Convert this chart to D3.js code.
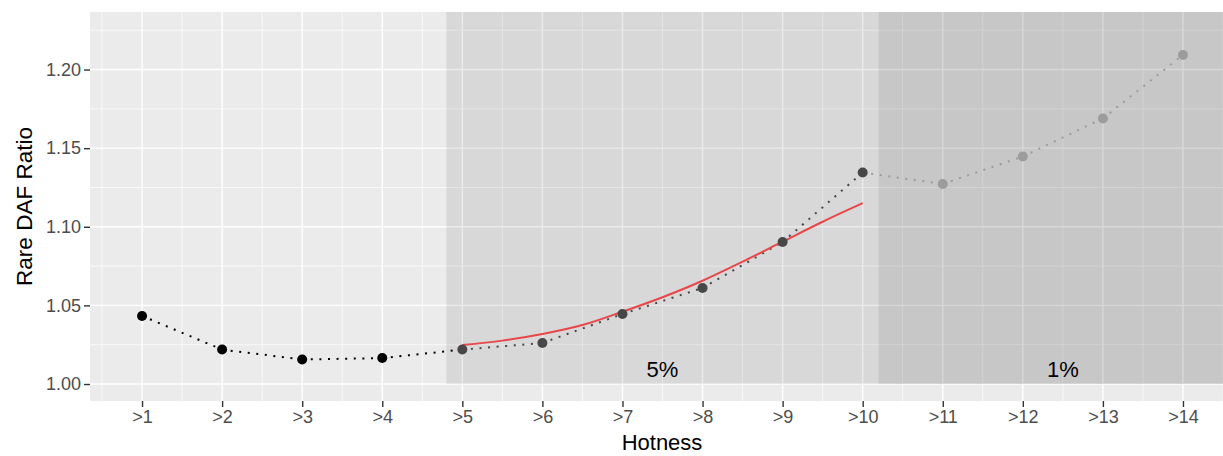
<!DOCTYPE html>
<html><head><meta charset="utf-8">
<script src="https://cdn.jsdelivr.net/npm/d3@7"></script>
<style>body{margin:0;background:#fff;} svg{display:block;font-family:"Liberation Sans",Arial,sans-serif;}</style>
</head><body>
<svg id="c" width="1223" height="456"></svg>
<script>
const categories = [">1",">2",">3",">4",">5",">6",">7",">8",">9",">10",">11",">12",">13",">14"];
const ratios = [1.0433,1.0219,1.0156,1.0165,1.0219,1.0261,1.0445,1.0611,1.0903,1.1345,1.1272,1.1447,1.1689,1.2093];
const pointGroup = [0,0,0,0,1,1,1,1,1,1,2,2,2,2];
const fitX = [5,5.5,6,6.5,7,7.5,8,8.5,9,9.5,10];
const fitY = [1.0248,1.0276,1.0318,1.0375,1.046,1.0552,1.0657,1.0778,1.0905,1.1032,1.115];
const yTicks = [1.00,1.05,1.10,1.15,1.20];
const regions = [{from:4.8,label:"5%",labelX:7.5},{from:10.2,label:"1%",labelX:12.5}];
const groupColors = ["#000000","#474747","#9c9c9c"];

const svg = d3.select("#c");
const L=90, R=1223, T=12, B=401;
const x = d3.scaleLinear().domain([0.35,14.5]).range([L,R]);
const y = d3.scaleLinear().domain([0.9892,1.2366]).range([B,T]);

svg.append("defs").append("clipPath").attr("id","clip").append("rect")
  .attr("x",L).attr("y",T).attr("width",R-L).attr("height",B-T);
const g = svg.append("g").attr("clip-path","url(#clip)");
g.append("rect").attr("x",L).attr("y",T).attr("width",R-L).attr("height",B-T).attr("fill","#ebebeb");

// minor grid
const xMinor = d3.range(0.5,15,1);
const yMinor = [0.975,1.025,1.075,1.125,1.175,1.225];
g.selectAll(".vmin").data(xMinor).join("line").attr("x1",d=>x(d)).attr("x2",d=>x(d)).attr("y1",T).attr("y2",B).attr("stroke","#fff").attr("stroke-width",0.7);
g.selectAll(".hmin").data(yMinor).join("line").attr("y1",d=>y(d)).attr("y2",d=>y(d)).attr("x1",L).attr("x2",R).attr("stroke","#fff").attr("stroke-width",0.7);
// major grid
g.selectAll(".vmaj").data(categories).join("line").attr("x1",(d,i)=>x(i+1)).attr("x2",(d,i)=>x(i+1)).attr("y1",T).attr("y2",B).attr("stroke","#fff").attr("stroke-width",1.4);
g.selectAll(".hmaj").data(yTicks).join("line").attr("y1",d=>y(d)).attr("y2",d=>y(d)).attr("x1",L).attr("x2",R).attr("stroke","#fff").attr("stroke-width",1.4);

// shaded regions
g.selectAll(".reg").data(regions).join("rect")
  .attr("x",d=>x(d.from)).attr("y",T).attr("width",d=>R-x(d.from)+5).attr("height",y(1.0)-T)
  .attr("fill","#000").attr("fill-opacity",0.077);

// region labels
g.selectAll(".rl").data(regions).join("text")
  .attr("x",d=>x(d.labelX)).attr("y",377).attr("text-anchor","middle")
  .attr("font-size",22).attr("fill","#000").text(d=>d.label);

// dotted segments
const segs = [];
for(let i=0;i<ratios.length-1;i++){
  const grp = i<4?0:(i<9?1:2);
  segs.push({a:i,b:i+1,grp});
}
g.selectAll(".seg").data(segs).join("line")
  .attr("x1",d=>x(d.a+1)).attr("y1",d=>y(ratios[d.a])).attr("x2",d=>x(d.b+1)).attr("y2",d=>y(ratios[d.b]))
  .attr("stroke",d=>groupColors[d.grp]).attr("stroke-width",2).attr("stroke-dasharray","2,6.6");

// fit curve
const fitLine = d3.line().x(d=>x(d[0])).y(d=>y(d[1])).curve(d3.curveCatmullRom);
g.append("path").datum(fitX.map((v,i)=>[v,fitY[i]])).attr("d",fitLine)
  .attr("fill","none").attr("stroke","#e8474a").attr("stroke-width",2);

// points
g.selectAll(".pt").data(ratios).join("circle")
  .attr("cx",(d,i)=>x(i+1)).attr("cy",d=>y(d)).attr("r",5)
  .attr("fill",(d,i)=>groupColors[pointGroup[i]]);

// axes
const xAxis = d3.axisBottom(x).tickValues(d3.range(1,15)).tickFormat((d)=>categories[d-1]).tickSize(6).tickPadding(3);
const xa = svg.append("g").attr("transform",`translate(0,${B})`).call(xAxis);
xa.select(".domain").remove();
xa.selectAll(".tick line").attr("stroke","#333").attr("stroke-width",1.4);
xa.selectAll(".tick text").attr("fill","#4d4d4d").attr("font-size",18).attr("font-family","Liberation Sans, Arial, sans-serif");

const yAxis = d3.axisLeft(y).tickValues(yTicks).tickFormat(d3.format(".2f")).tickSize(6).tickPadding(3);
const ya = svg.append("g").attr("transform",`translate(${L},0)`).call(yAxis);
ya.select(".domain").remove();
ya.selectAll(".tick line").attr("stroke","#333").attr("stroke-width",1.4);
ya.selectAll(".tick text").attr("fill","#4d4d4d").attr("font-size",18).attr("font-family","Liberation Sans, Arial, sans-serif");

svg.append("text").attr("x",662).attr("y",450).attr("text-anchor","middle").attr("font-size",22).attr("fill","#000").text("Hotness");
svg.append("text").attr("transform",`translate(32,${(T+B)/2}) rotate(-90)`).attr("text-anchor","middle").attr("font-size",22.5).attr("fill","#000").text("Rare DAF Ratio");
</script>
</body></html>
